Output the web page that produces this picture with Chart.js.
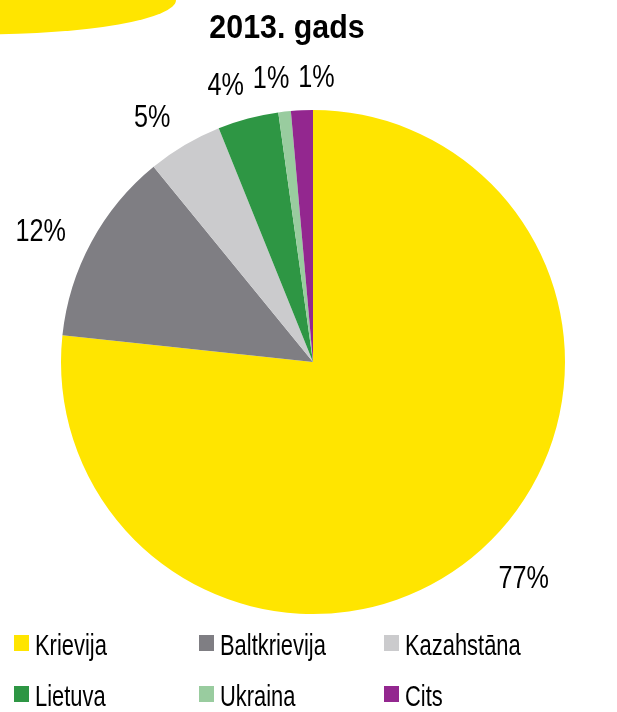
<!DOCTYPE html>
<html>
<head>
<meta charset="utf-8">
<script src="https://cdn.jsdelivr.net/npm/chart.js@4.4.1/dist/chart.umd.min.js"></script>
<style>
  html, body { margin: 0; padding: 0; background: #fff; }
  #wrap { width: 617px; height: 712px; }
</style>
</head>
<body>
<div id="wrap"><canvas id="myChart" width="617" height="712"></canvas></div>
<script>
// data (share of total, %)
const countries = ["Krievija", "Baltkrievija", "Kazahstāna", "Lietuva", "Ukraina", "Cits"];
const shares = [76.7, 12.4, 4.8, 3.9, 0.8, 1.4];
const shareLabels = ["77%", "12%", "5%", "4%", "1%", "1%"];
const chartTitle = "2013. gads";

const colors = ["#FFE500", "#7F7E83", "#CBCBCD", "#2E9644", "#99CC9F", "#93278F"];
const FONT = "'Liberation Sans', Arial, sans-serif";

// condensed text helper (the original uses a narrow face)
function narrowText(ctx, text, x, y, font, squeeze, align) {
  ctx.save();
  ctx.font = font;
  ctx.textAlign = align || "left";
  ctx.translate(x, y);
  ctx.scale(squeeze, 1);
  ctx.fillText(text, 0, 0);
  ctx.restore();
}

const decoration = {
  id: "decoration",
  beforeDraw(chart) {
    const ctx = chart.ctx;
    ctx.save();
    ctx.fillStyle = "#FFE500";
    ctx.beginPath();
    ctx.ellipse(-20, 0, 196, 34.5, 0, 0, Math.PI * 2);
    ctx.fill();
    ctx.restore();
  }
};

// labels outside the slices, box edge kept a small gap off the rim
const sliceLabels = {
  id: "sliceLabels",
  afterDatasetsDraw(chart) {
    const ctx = chart.ctx;
    const arcs = chart.getDatasetMeta(0).data;
    const font = "31.5px " + FONT;
    const squeeze = 0.8;
    const capH = 23;
    const gap = 23;
    const tilt = -2.5 * Math.PI / 180;
    ctx.save();
    ctx.font = font;
    const boxes = [];
    arcs.forEach((arc, i) => {
      const w = ctx.measureText(shareLabels[i]).width * squeeze;
      const mid = (arc.startAngle + arc.endAngle) / 2 + tilt;
      const cx = Math.cos(mid), cy = Math.sin(mid);
      const d = arc.outerRadius + gap + Math.abs(cx) * w / 2 + Math.abs(cy) * capH / 2;
      let x = arc.x + cx * d;
      const y = arc.y + cy * d;
      const prev = boxes[boxes.length - 1];
      if (prev && Math.abs(prev.y - y) < capH && Math.abs(prev.x - x) < (prev.w + w) / 2 + 9) {
        x = prev.x + (prev.w + w) / 2 + 9;
      }
      boxes.push({ x, y, w });
    });
    ctx.fillStyle = "#000";
    boxes.forEach((b, i) => {
      narrowText(ctx, shareLabels[i], b.x, b.y + capH / 2, font, squeeze, "center");
    });
    ctx.restore();
  }
};

const titleAndLegend = {
  id: "titleAndLegend",
  afterDraw(chart) {
    const ctx = chart.ctx;
    ctx.save();
    ctx.fillStyle = "#000";
    ctx.textBaseline = "alphabetic";
    narrowText(ctx, chartTitle, 287, 38, "bold 33px " + FONT, 0.92, "center");

    const colX = [14, 199, 384];
    const rowY = [655, 706];
    countries.forEach((name, i) => {
      const x = colX[i % 3];
      const y = rowY[Math.floor(i / 3)];
      ctx.fillStyle = colors[i];
      ctx.fillRect(x, y - 20, 15, 16);
      ctx.fillStyle = "#000";
      narrowText(ctx, name, x + 21, y, "30px " + FONT, 0.73, "left");
    });
    ctx.restore();
  }
};

new Chart(document.getElementById("myChart").getContext("2d"), {
  type: "pie",
  data: {
    labels: countries,
    datasets: [{
      data: shares,
      backgroundColor: colors,
      borderWidth: 0
    }]
  },
  options: {
    responsive: false,
    animation: false,
    layout: { padding: { left: 61, right: 52, top: 110, bottom: 98 } },
    plugins: {
      legend: { display: false },
      title: { display: false },
      tooltip: { enabled: false }
    }
  },
  plugins: [decoration, sliceLabels, titleAndLegend]
});
</script>
</body>
</html>
